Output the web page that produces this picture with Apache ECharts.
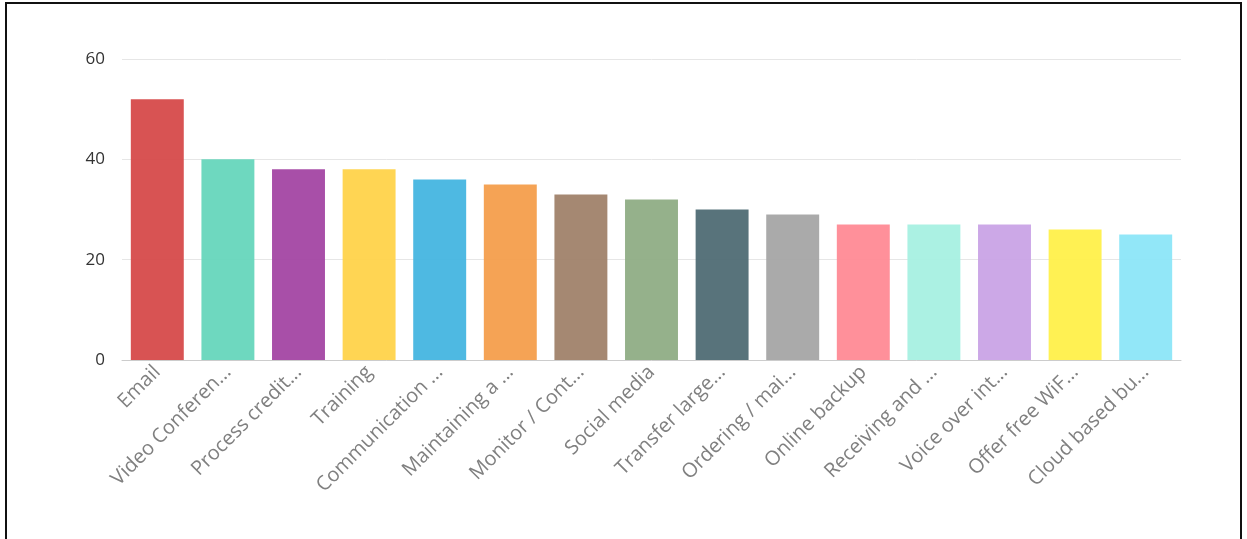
<!DOCTYPE html>
<html>
<head>
<meta charset="utf-8">
<script src="https://cdn.jsdelivr.net/npm/echarts@6/dist/echarts.min.js"></script>
<style>
html,body{margin:0;padding:0;background:#fff;}
#frame{position:absolute;left:5px;top:2px;width:1233px;height:545px;border-left:2px solid #111;border-top:2px solid #111;border-right:2px solid #111;box-sizing:content-box;pointer-events:none;z-index:2;}
#chart{position:absolute;left:0;top:0;width:1247px;height:539px;}
</style>
</head>
<body>
<div id="chart"></div>
<div id="frame"></div>
<script>
const categories = ["Email","Video Conferen...","Process credit...","Training","Communication ...","Maintaining a ...","Monitor / Cont...","Social media","Transfer large...","Ordering / mai...","Online backup","Receiving and ...","Voice over int...","Offer free WiF...","Cloud based bu..."];
const values = [52,40,38,38,36,35,33,32,30,29,27,27,27,26,25];
const colors = ["#D64A4A","#66D6BC","#A346A3","#FFD34A","#45B5E0","#F49E4C","#A0826A","#8FAD85","#4F6B74","#A5A5A5","#FF8A95","#A6F0E2","#C9A3E6","#FFF04A","#8CE6F8"];
const yTicks = [0,20,40,60];

const chart = echarts.init(document.getElementById('chart'));
chart.setOption({
  animation:false,
  grid:{left:122,right:66,top:59,bottom:179,containLabel:false},
  xAxis:{
    type:'category',
    data:categories,
    axisLine:{lineStyle:{color:'#cccccc',width:1}},
    axisTick:{alignWithLabel:true,length:5,lineStyle:{color:'#999'}},
    axisLabel:{rotate:45,interval:0,color:'#808080',fontSize:20,fontFamily:'"Open Sans", sans-serif',margin:9}
  },
  yAxis:{
    type:'value',min:yTicks[0],max:yTicks[yTicks.length-1],interval:20,
    axisLine:{show:false},axisTick:{show:false},
    splitLine:{lineStyle:{color:'#e6e6e6',width:1}},
    axisLabel:{color:'#333',fontSize:17,fontFamily:'"Open Sans", sans-serif',margin:17}
  },
  series:[{
    type:'bar',
    data:values.map((v,i)=>({value:v,itemStyle:{color:colors[i]}})),
    barWidth:'75%',
    itemStyle:{opacity:0.95}
  }]
});
</script>
</body>
</html>
